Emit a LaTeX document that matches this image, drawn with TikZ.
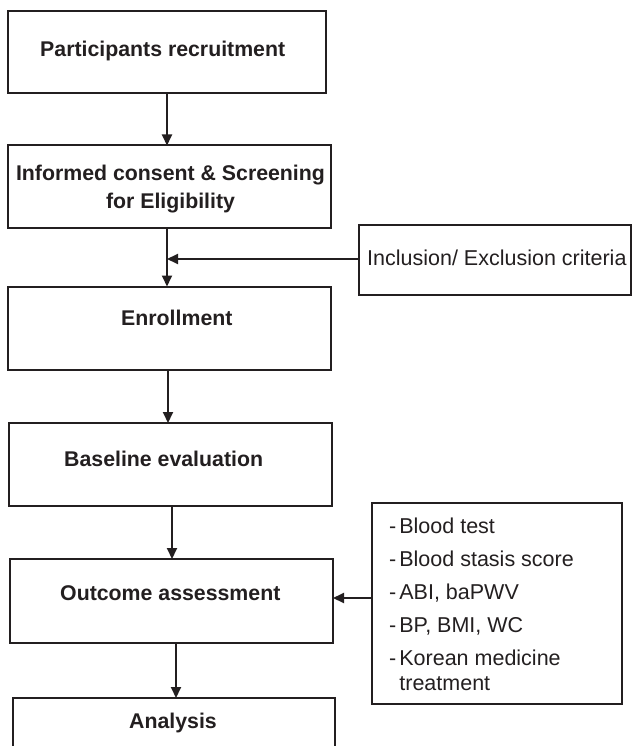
\documentclass[tikz,border=0pt]{standalone}
\usepackage{fontspec}
\setmainfont{Liberation Sans}
\usetikzlibrary{arrows.meta}
\definecolor{ink}{HTML}{231F20}
\begin{document}
\begin{tikzpicture}[x=1pt,y=-1pt,
  box/.style={draw=ink, line width=2pt, inner sep=0pt, outer sep=0pt},
  blbl/.style={font=\fontsize{21.3}{28}\selectfont\bfseries, text=ink, inner sep=0pt, anchor=base west},
  rlbl/.style={font=\fontsize{21.5}{25}\selectfont, text=ink, inner sep=0pt, anchor=base west},
  arr/.style={draw=ink, line width=1.9pt, -{Triangle[length=11pt,width=10pt]}}]
\clip (0,0) rectangle (633,746);
\fill[white] (0,0) rectangle (633,746);
% boxes
\node[box, minimum width=318pt, minimum height=82pt] (rec) at (167,52) {};
\node[box, minimum width=323pt, minimum height=82pt] (cons) at (169.5,186.5) {};
\node[box, minimum width=272pt, minimum height=70pt] (incl) at (495,260) {};
\node[box, minimum width=323pt, minimum height=83pt] (enr) at (169.5,328) {};
\node[box, minimum width=323pt, minimum height=83pt] (base) at (170.5,464.5) {};
\node[box, minimum width=323pt, minimum height=84pt] (out) at (171.5,601) {};
\node[box, minimum width=322pt, minimum height=90pt] (ana) at (174,743) {};
\node[box, minimum width=250pt, minimum height=201pt] (list) at (497,603.5) {};
% texts
\node[blbl] (recT) at (40,57) {Participants recruitment};
\node[blbl, anchor=base, align=center] (consT) at (170.5,208) {Informed consent \& Screening\\for Eligibility};
\node[rlbl] (inclT) at (367,265) {Inclusion/ Exclusion criteria};
\node[blbl] (enrT) at (121,325) {Enrollment};
\node[blbl] (baseT) at (64,466) {Baseline evaluation};
\node[blbl] (outT) at (60,600) {Outcome assessment};
\node[blbl] (anaT) at (129,728) {Analysis};
\node[rlbl] (listT) at (389,533) {\begin{tabular}[t]{@{}l@{\hspace{3pt}}l@{}}
-&Blood test\\[8pt]
-&Blood stasis score\\[8pt]
-&ABI, baPWV\\[8pt]
-&BP, BMI, WC\\[8pt]
-&Korean medicine\\
 &treatment
\end{tabular}};
% connector x/y positions
\coordinate (x1) at (167,0);
\coordinate (x2) at (167,0);
\coordinate (x3) at (168,0);
\coordinate (x4) at (172,0);
\coordinate (x5) at (176,0);
\coordinate (y1) at (0,259);
\coordinate (y2) at (0,598);
% connectors
\draw[arr] (rec.south -| x1) -- (cons.north -| x1);
\draw[arr] (cons.south -| x2) -- (enr.north -| x2);
\draw[arr] (incl.west |- y1) -- (x2 |- y1);
\draw[arr] (enr.south -| x3) -- (base.north -| x3);
\draw[arr] (base.south -| x4) -- (out.north -| x4);
\draw[arr] (list.west |- y2) -- (out.east |- y2);
\draw[arr] (out.south -| x5) -- (ana.north -| x5);
\end{tikzpicture}
\end{document}
